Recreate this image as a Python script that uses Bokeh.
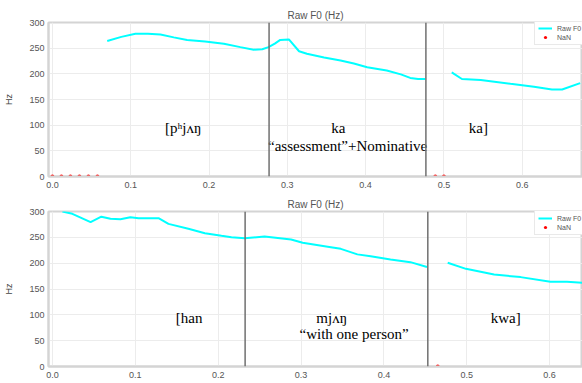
from bokeh.plotting import figure
from bokeh.layouts import column
from bokeh.models import Range1d, FixedTicker, PrintfTickFormatter, Span, Legend, LegendItem, Title
from bokeh.core.properties import value
from bokeh.embed import file_html
from bokeh.resources import INLINE

# ---------------- data: top panel ----------------
top_seg1_t = [0.070, 0.088, 0.106, 0.122, 0.138, 0.155, 0.172, 0.195, 0.219, 0.240, 0.257, 0.268, 0.276, 0.284, 0.291, 0.302,
              0.315, 0.325, 0.347, 0.368, 0.385, 0.402, 0.427, 0.445, 0.457, 0.467, 0.476]
top_seg1_hz = [264, 272, 278, 278, 276.5, 271, 266, 263, 258.5, 252, 247, 248, 252, 259, 266, 267,
               244, 239, 232, 226, 220, 213, 206.5, 199, 192, 190, 190]
top_seg2_t = [0.510, 0.523, 0.547, 0.585, 0.615, 0.638, 0.651, 0.674]
top_seg2_hz = [203, 190, 188, 180.5, 175, 169.5, 169.5, 182]
top_nan_t = [0.0, 0.0115, 0.023, 0.0345, 0.046, 0.0575, 0.489, 0.500]
top_nan_hz = [0, 0, 0, 0, 0, 0, 0, 0]
top_bounds = [0.2767, 0.477]
top_labels = ["[pʰjʌŋ", "ka", "\u201cassessment\u201d+Nominative", "ka]"]
top_label_t = [0.167, 0.365, 0.377, 0.544]
top_label_hz = [95, 95, 60, 95]

# ---------------- data: bottom panel ----------------
bot_seg1_t = [0.012, 0.024, 0.046, 0.059, 0.070, 0.082, 0.094, 0.104, 0.128, 0.140, 0.164, 0.184, 0.204, 0.216, 0.232,
              0.256, 0.288, 0.302, 0.336, 0.348, 0.368, 0.384, 0.408, 0.432, 0.452]
bot_seg1_hz = [300, 295.5, 279.5, 290, 286, 285, 289, 287, 287, 276, 266.5, 258, 253, 250.3, 248.4,
               251.6, 245.8, 239.4, 231, 227.7, 217, 213.5, 207, 202, 192.6]
bot_seg2_t = [0.477, 0.499, 0.533, 0.565, 0.601, 0.621, 0.640]
bot_seg2_hz = [200.7, 189, 178, 173, 164, 164, 162]
bot_nan_t = [0.465]
bot_nan_hz = [0]
bot_bounds = [0.2325, 0.453]
bot_labels = ["[han", "mjʌŋ", "\u201cwith one person\u201d", "kwa]"]
bot_label_t = [0.165, 0.337, 0.364, 0.547]
bot_label_hz = [93, 93, 62, 93]

x_ticks = [0.0, 0.1, 0.2, 0.3, 0.4, 0.5, 0.6]
y_ticks = [0, 50, 100, 150, 200, 250, 300]
panel_title = "Raw F0 (Hz)"

SANS = "Liberation Sans"
SERIF = "Liberation Serif"


def make_panel(height, xr, seg1, seg2, nan, bounds, labels, lt, lhz, bottom_border,
               t_standoff, spacer):
    p = figure(width=582, height=height, output_backend="svg", toolbar_location=None,
               x_range=Range1d(*xr), y_range=Range1d(0, 300),
               min_border_left=48, min_border_right=0, min_border_top=0,
               min_border_bottom=bottom_border, title=None)
    p.add_layout(Title(text=panel_title, align="center", text_font=SANS, text_font_size="10px",
                       text_font_style="normal", text_color="#555555", standoff=t_standoff), "above")
    if spacer:
        # blank strip at the very top of the canvas (outermost)
        p.add_layout(Title(text=" ", text_font_size="3px", standoff=0), "above")

    p.outline_line_color = "#d4d4d4"
    p.outline_line_width = 2
    p.background_fill_color = "white"
    p.border_fill_color = "white"

    p.xaxis.ticker = FixedTicker(ticks=x_ticks)
    p.xaxis.formatter = PrintfTickFormatter(format="%.1f")
    p.yaxis.ticker = FixedTicker(ticks=y_ticks)
    for ax in (p.xaxis, p.yaxis):
        ax.axis_line_color = "#d4d4d4"
        ax.axis_line_width = 2
        ax.major_tick_line_color = None
        ax.minor_tick_line_color = None
        ax.major_tick_out = 0
        ax.major_tick_in = 0
        ax.major_label_text_font = SANS
        ax.major_label_text_font_size = "9px"
        ax.major_label_text_color = "#555555"
        ax.major_label_standoff = 5
    p.yaxis.major_label_standoff = 4
    p.yaxis.axis_label = "Hz"
    p.yaxis.axis_label_text_font = SANS
    p.yaxis.axis_label_text_font_size = "9px"
    p.yaxis.axis_label_text_font_style = "normal"
    p.yaxis.axis_label_text_color = "#444444"
    p.yaxis.axis_label_standoff = 12

    p.xgrid.grid_line_color = "#ececec"
    p.ygrid.grid_line_color = "#ececec"

    l1 = p.line(seg1[0], seg1[1], line_color="#00FFFF", line_width=2)
    p.line(seg2[0], seg2[1], line_color="#00FFFF", line_width=2)
    pts = p.scatter(nan[0], nan[1], size=4, color="red", line_color=None)

    for b in bounds:
        p.add_layout(Span(location=b, dimension="height", line_color="#707070", line_width=1.5))

    p.text(x=lt, y=lhz, text=labels, text_font=value(SERIF), text_font_size="15px",
           text_align="center", text_baseline="middle", text_color="black")

    legend = Legend(items=[LegendItem(label="Raw F0", renderers=[l1]),
                           LegendItem(label="NaN", renderers=[pts])],
                    location=(486, 131), label_text_font=SANS, label_text_font_size="7px",
                    label_text_color="#555555", glyph_width=14, glyph_height=8,
                    label_height=8, spacing=1, padding=3, margin=0,
                    border_line_color="#d4d4d4", border_line_width=1,
                    background_fill_alpha=1)
    p.add_layout(legend)
    return p


top = make_panel(195, (-0.005, 0.677), (top_seg1_t, top_seg1_hz), (top_seg2_t, top_seg2_hz),
                 (top_nan_t, top_nan_hz), top_bounds, top_labels, top_label_t, top_label_hz, 19,
                 4, True)
bot = make_panel(188, (-0.0048, 0.6397), (bot_seg1_t, bot_seg1_hz), (bot_seg2_t, bot_seg2_hz),
                 (bot_nan_t, bot_nan_hz), bot_bounds, bot_labels, bot_label_t, bot_label_hz, 17,
                 3, False)

layout = column(top, bot, spacing=0)
open("out.html", "w").write(file_html(layout, INLINE))
